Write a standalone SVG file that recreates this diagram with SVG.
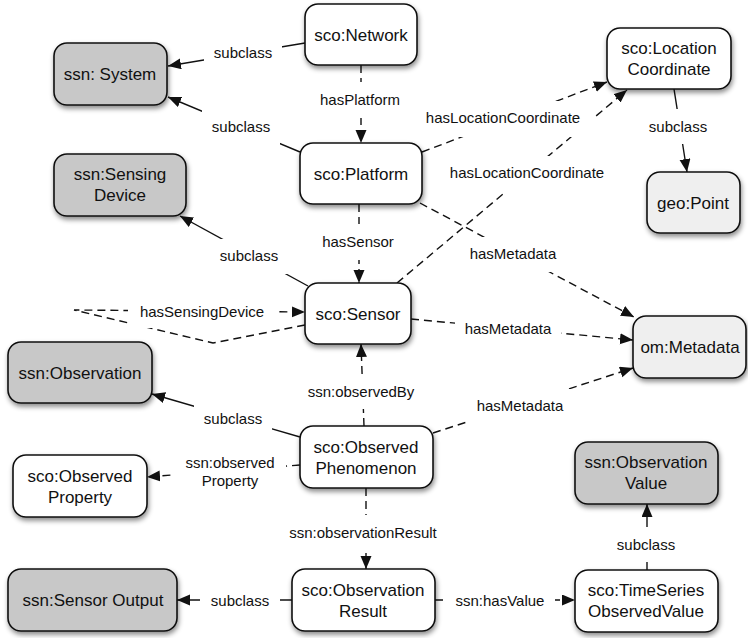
<svg xmlns="http://www.w3.org/2000/svg" width="748" height="638" viewBox="0 0 748 638">
<style>
.n rect{stroke:#111;stroke-width:1.6}
.w{fill:#fff}.g{fill:#c8c8c8}.l{fill:#efefef}
.n text{font-family:"Liberation Sans",Arial,sans-serif;font-size:17px;fill:#111;text-anchor:middle}
.e{fill:none;stroke:#111;stroke-width:1.4}
.d{stroke-dasharray:8,5}
.lb rect{fill:#fff}
.lb text{font-family:"Liberation Sans",Arial,sans-serif;font-size:15px;fill:#111;text-anchor:middle}
</style>
<defs>
<filter id="sh" x="-20%" y="-20%" width="140%" height="150%"><feDropShadow dx="1" dy="3" stdDeviation="2.5" flood-color="#000" flood-opacity="0.45"/></filter>
<marker id="a" markerUnits="userSpaceOnUse" markerWidth="14" markerHeight="12" refX="13" refY="5.5" orient="auto"><path d="M0,0 L13,5.5 L0,11 z" fill="#111"/></marker>
</defs>
<rect width="748" height="638" fill="#fff"/>
<g id="connectors">
<path class="e" d="M305,43 L168,66" marker-end="url(#a)"/>
<path class="e" d="M300,152 L168,97" marker-end="url(#a)"/>
<path class="e d" d="M361,65 L361,143" marker-end="url(#a)"/>
<path class="e d" d="M422,152 L607,82" marker-end="url(#a)"/>
<path class="e d" d="M397,283 L627,90" marker-end="url(#a)"/>
<path class="e" d="M674,89 L687,172" marker-end="url(#a)"/>
<path class="e d" d="M359,204 L359,283" marker-end="url(#a)"/>
<path class="e" d="M308,286 L180,216" marker-end="url(#a)"/>
<path class="e d" d="M305,325 L213,343 L74,310 L305,312" marker-end="url(#a)"/>
<path class="e d" d="M420,203 L634,317" marker-end="url(#a)"/>
<path class="e d" d="M411,319 L633,340" marker-end="url(#a)"/>
<path class="e d" d="M433,433 L633,368" marker-end="url(#a)"/>
<path class="e d" d="M364,426 L361,344" marker-end="url(#a)"/>
<path class="e" d="M300,437 L152,394" marker-end="url(#a)"/>
<path class="e d" d="M300,465 L147,477" marker-end="url(#a)"/>
<path class="e d" d="M366,488 L366,569" marker-end="url(#a)"/>
<path class="e" d="M292,600 L177,600" marker-end="url(#a)"/>
<path class="e d" d="M435,600 L575,600" marker-end="url(#a)"/>
<path class="e" d="M647,570 L647,504" marker-end="url(#a)"/>
<g class="lb">
<rect x="204" y="36" width="78" height="34"/><text x="243" y="58">subclass</text>
<rect x="202" y="110" width="78" height="35"/><text x="241" y="132">subclass</text>
<rect x="309" y="82" width="102" height="36"/><text x="360" y="105">hasPlatform</text>
<rect x="413" y="101" width="180" height="36"/><text x="503" y="123">hasLocationCoordinate</text>
<rect x="437" y="156" width="180" height="36"/><text x="527" y="178">hasLocationCoordinate</text>
<rect x="639" y="109" width="78" height="35"/><text x="678" y="132">subclass</text>
<rect x="312" y="224" width="92" height="36"/><text x="358" y="247">hasSensor</text>
<rect x="210" y="239" width="78" height="35"/><text x="249" y="261">subclass</text>
<rect x="128" y="296" width="150" height="32"/><text x="202" y="317">hasSensingDevice</text>
<rect x="460" y="237" width="107" height="35"/><text x="513" y="259">hasMetadata</text>
<rect x="455" y="312" width="106" height="35"/><text x="508" y="334">hasMetadata</text>
<rect x="467" y="389" width="106" height="35"/><text x="520" y="411">hasMetadata</text>
<rect x="298" y="374" width="126" height="35"/><text x="361" y="397">ssn:observedBy</text>
<rect x="194" y="402" width="78" height="34"/><text x="233" y="424">subclass</text>
<rect x="175" y="446" width="111" height="50"/><text x="230" y="468">ssn:observed</text><text x="230" y="486">Property</text>
<rect x="278" y="515" width="170" height="35"/><text x="363" y="538">ssn:observationResult</text>
<rect x="200" y="583" width="80" height="35"/><text x="240" y="606">subclass</text>
<rect x="445" y="583" width="110" height="35"/><text x="500" y="606">ssn:hasValue</text>
<rect x="607" y="527" width="78" height="35"/><text x="646" y="550">subclass</text>
</g>
</g>
<g id="network" class="n"><rect class="w" x="305" y="4" width="112" height="61" rx="13" filter="url(#sh)"/><text x="361" y="41">sco:Network</text></g>
<g id="system" class="n"><rect class="g" x="54" y="43" width="113" height="62" rx="13" filter="url(#sh)"/><text x="110" y="80">ssn: System</text></g>
<g id="platform" class="n"><rect class="w" x="300" y="143" width="122" height="61" rx="13" filter="url(#sh)"/><text x="361" y="180">sco:Platform</text></g>
<g id="sensingdevice" class="n"><rect class="g" x="54" y="154" width="132" height="62" rx="13" filter="url(#sh)"/><text x="120" y="180">ssn:Sensing</text><text x="120" y="201">Device</text></g>
<g id="location" class="n"><rect class="w" x="607" y="28" width="124" height="61" rx="13" filter="url(#sh)"/><text x="669" y="54">sco:Location</text><text x="669" y="75">Coordinate</text></g>
<g id="geopoint" class="n"><rect class="l" x="647" y="172" width="93" height="61" rx="13" filter="url(#sh)"/><text x="693" y="209">geo:Point</text></g>
<g id="sensor" class="n"><rect class="w" x="305" y="283" width="106" height="61" rx="13" filter="url(#sh)"/><text x="358" y="320">sco:Sensor</text></g>
<g id="metadata" class="n"><rect class="l" x="633" y="316" width="113" height="62" rx="13" filter="url(#sh)"/><text x="690" y="353">om:Metadata</text></g>
<g id="observation" class="n"><rect class="g" x="8" y="342" width="144" height="61" rx="13" filter="url(#sh)"/><text x="80" y="379">ssn:Observation</text></g>
<g id="phenomenon" class="n"><rect class="w" x="300" y="426" width="133" height="62" rx="13" filter="url(#sh)"/><text x="366" y="453">sco:Observed</text><text x="366" y="474">Phenomenon</text></g>
<g id="observedproperty" class="n"><rect class="w" x="13" y="455" width="134" height="62" rx="13" filter="url(#sh)"/><text x="80" y="482">sco:Observed</text><text x="80" y="503">Property</text></g>
<g id="observationvalue" class="n"><rect class="g" x="575" y="442" width="143" height="62" rx="13" filter="url(#sh)"/><text x="646" y="468">ssn:Observation</text><text x="646" y="489">Value</text></g>
<g id="sensoroutput" class="n"><rect class="g" x="8" y="569" width="169" height="62" rx="13" filter="url(#sh)"/><text x="93" y="606">ssn:Sensor Output</text></g>
<g id="result" class="n"><rect class="w" x="292" y="569" width="143" height="62" rx="13" filter="url(#sh)"/><text x="363" y="596">sco:Observation</text><text x="363" y="617">Result</text></g>
<g id="timeseries" class="n"><rect class="w" x="575" y="570" width="143" height="62" rx="13" filter="url(#sh)"/><text x="646" y="596">sco:TimeSeries</text><text x="646" y="617">ObservedValue</text></g>
</svg>
